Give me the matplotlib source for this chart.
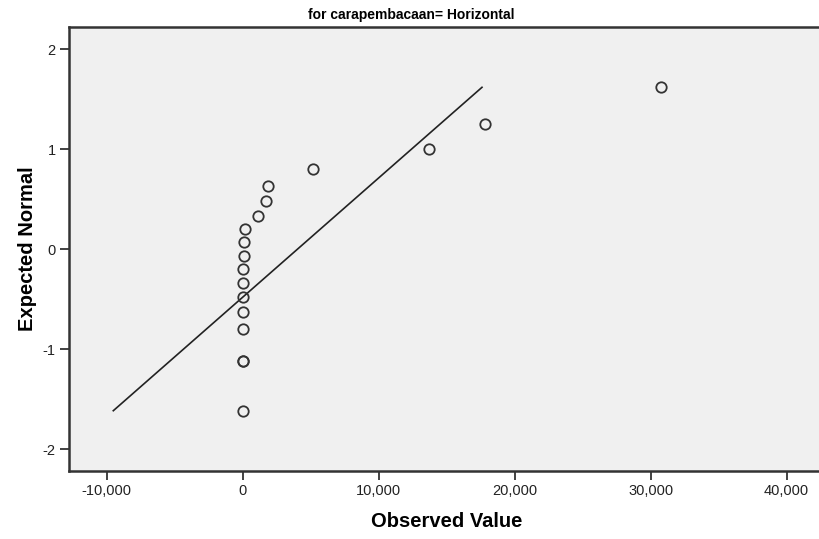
import numpy as np
import matplotlib
matplotlib.use('Agg')
import matplotlib.pyplot as plt
from matplotlib.ticker import FuncFormatter

plt.rcParams['font.family'] = ['Liberation Sans', 'DejaVu Sans']
plt.rcParams['axes.unicode_minus'] = False

# Normal Q-Q plot data (observed values vs expected normal scores)
observed = [0, 0, 0, 0, 0, 0, 0, 0, 120, 120, 170, 1100, 1740, 1880,
            5190, 13720, 17820, 30760]
expected = [-1.617, -1.117, -1.117, -0.803, -0.633, -0.477, -0.337, -0.200,
            -0.067, 0.067, 0.200, 0.333, 0.480, 0.633, 0.803, 1.000, 1.253, 1.617]

# reference line parameters
mean_obs = 4040
sd_obs = 8383

x_ticks = [-10000, 0, 10000, 20000, 30000, 40000]
y_ticks = [-2, -1, 0, 1, 2]

fig = plt.figure(figsize=(8.19, 5.39), dpi=100)
ax = fig.add_axes([0.0839, 0.1267, 0.9234, 0.8232])
ax.set_facecolor('#f0f0f0')

# reference line
line_y = np.array([min(expected), max(expected)])
line_x = mean_obs + sd_obs * line_y
ax.plot(line_x, line_y, color='#222222', lw=1.2, zorder=2)

ax.plot(observed, expected, 'o', ms=7.5, mfc='none', mec='#333333', mew=1.3, zorder=3)

ax.set_xlim(-12794, 42816)
ax.set_ylim(-2.217, 2.22)
ax.set_xticks(x_ticks)
ax.set_yticks(y_ticks)
ax.xaxis.set_major_formatter(FuncFormatter(lambda v, p: f'{int(v):,}'))
ax.yaxis.set_major_formatter(FuncFormatter(lambda v, p: f'{int(v)}'))

for side in ['left', 'bottom', 'top']:
    ax.spines[side].set_color('#333333')
    ax.spines[side].set_linewidth(1.8)
ax.spines['right'].set_visible(False)

ax.tick_params(axis='both', direction='out', length=6.5, width=1.3,
               color='#333333', labelsize=10.5, labelcolor='#222222', pad=3)

ax.set_xlabel('Observed Value', fontsize=14.5, fontweight='bold', labelpad=10)
ax.set_ylabel('Expected Normal', fontsize=14.5, fontweight='bold', labelpad=4)
fig.text(411.5 / 819, 1 - 15 / 539, 'for carapembacaan= Horizontal',
         ha='center', va='center', fontsize=10, fontweight='bold')

fig.savefig('out.png', dpi=100)
